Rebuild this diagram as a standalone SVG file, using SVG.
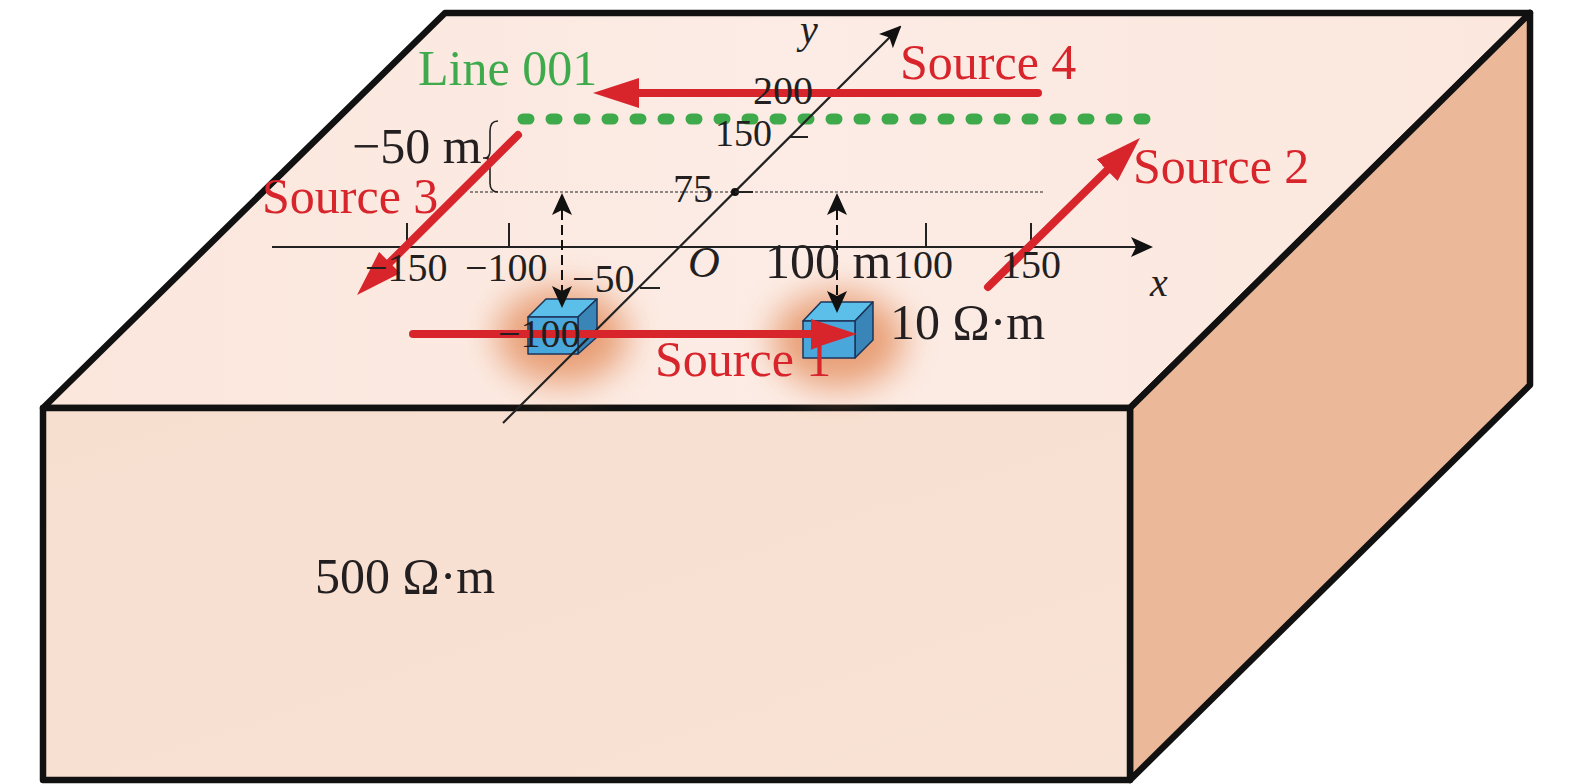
<svg xmlns="http://www.w3.org/2000/svg" width="1575" height="784" viewBox="0 0 1575 784">
<style>
text{font-family:"Liberation Serif","Times New Roman",serif;fill:#231F20}
.big{font-size:50px}
.tk{font-size:40px}
.it{font-style:italic}
.red{fill:#D8252C}
.grn{fill:#3FAA4C}
.edge{stroke:#111;stroke-width:6.5;stroke-linejoin:round}
.src{stroke:#D8252C;stroke-width:8;stroke-linecap:round;fill:none;marker-end:url(#redhead)}
.axis{stroke:#222;stroke-width:2.2;fill:none}
.tick{stroke:#222;stroke-width:2;fill:none}
.dim{stroke:#111;stroke-width:2;stroke-dasharray:10 5;fill:none;marker-start:url(#blkstart);marker-end:url(#blkhead)}
.cube{stroke:#1C3559;stroke-width:1.5;stroke-linejoin:round}
</style>
<defs>
<marker id="redhead" markerUnits="userSpaceOnUse" markerWidth="46" markerHeight="30" viewBox="0 0 46 30" refX="6" refY="15" orient="auto">
<path d="M0,0 L46,15 L0,30 z" fill="#D8252C"/>
</marker>
<marker id="blkhead" markerUnits="userSpaceOnUse" markerWidth="22" markerHeight="20" viewBox="0 0 22 20" refX="20" refY="10" orient="auto">
<path d="M0,0 L22,10 L0,20 L5,10 z" fill="#111"/>
</marker>
<marker id="blkstart" markerUnits="userSpaceOnUse" markerWidth="22" markerHeight="20" viewBox="0 0 22 20" refX="2" refY="10" orient="auto">
<path d="M22,0 L0,10 L22,20 L17,10 z" fill="#111"/>
</marker>
<linearGradient id="topg" x1="0" y1="0" x2="1" y2="0">
<stop offset="0" stop-color="#FBE6DC"/>
<stop offset="0.5" stop-color="#FCECE5"/>
<stop offset="1" stop-color="#FBE7DD"/>
</linearGradient>
<linearGradient id="frontg" x1="0" y1="0" x2="1" y2="1">
<stop offset="0" stop-color="#F7DFD0"/>
<stop offset="1" stop-color="#F8E2D4"/>
</linearGradient>
<filter id="blur" x="-1" y="-1" width="3" height="3">
<feGaussianBlur stdDeviation="17"/>
</filter>
</defs>

<g id="earth">
<polygon class="edge" fill="url(#topg)" points="43,408 445,13 1530,13 1130,408"/>
<polygon class="edge" fill="#EBB999" points="1130,408 1530,13 1530,385 1130,780"/>
<rect class="edge" fill="url(#frontg)" x="43" y="408" width="1087" height="372"/>
</g>

<g id="glows">
<ellipse cx="562" cy="336" rx="66" ry="48" fill="#E6976A" opacity="0.9" filter="url(#blur)"/>
<ellipse cx="838" cy="340" rx="66" ry="48" fill="#E6976A" opacity="0.9" filter="url(#blur)"/>
</g>

<g id="axes">
<line class="axis" x1="272" y1="247" x2="1151" y2="247" marker-end="url(#blkhead)"/>
<line class="tick" x1="407" y1="223" x2="407" y2="247"/>
<line class="tick" x1="509" y1="223" x2="509" y2="247"/>
<line class="tick" x1="926" y1="223" x2="926" y2="247"/>
<line class="tick" x1="1031" y1="223" x2="1031" y2="247"/>
<line x1="470" y1="192" x2="1043" y2="192" stroke="#222" stroke-width="1.2" stroke-dasharray="3 2"/>
<path d="M498,121 Q490,121 490,131 L490,150 Q490,158 485,158 Q490,158 490,166 L490,183 Q490,192 498,192" fill="none" stroke="#222" stroke-width="1.6"/>
<line x1="483" y1="158" x2="489" y2="158" stroke="#222" stroke-width="1.6"/>
<line x1="523" y1="119" x2="1154" y2="119" stroke="#3FAA4C" stroke-width="11" stroke-linecap="round" stroke-dasharray="6 22"/>
</g>

<g id="block1">
<polygon class="cube" fill="#5CBFE9" points="528,317 546,299 597,299 578,317"/>
<polygon class="cube" fill="#3A85B7" points="578,317 597,299 597,337 578,354"/>
<rect class="cube" fill="#4AA7DC" x="528" y="317" width="50" height="37"/>
</g>
<g id="block2">
<polygon class="cube" fill="#5CBFE9" points="803,321 821,302 873,302 855,321"/>
<polygon class="cube" fill="#3A85B7" points="855,321 873,302 873,340 855,358"/>
<rect class="cube" fill="#4AA7DC" x="803" y="321" width="52" height="37"/>
</g>

<g id="yaxis">
<line class="axis" x1="503" y1="423" x2="900" y2="27" marker-end="url(#blkhead)"/>
<circle cx="735" cy="192" r="4" fill="#111"/>
<line class="tick" x1="735" y1="192" x2="753" y2="192"/>
<line class="tick" x1="790" y1="137" x2="808" y2="137"/>
<line class="tick" x1="640" y1="288" x2="660" y2="288"/>
</g>

<g id="connectors">
<line class="dim" x1="562" y1="195" x2="562" y2="306"/>
<line class="dim" x1="837" y1="195" x2="837" y2="311"/>
<line class="src" x1="1038" y1="93" x2="633" y2="93"/>
<line class="src" x1="518" y1="135" x2="385.4" y2="266.8"/>
<line class="src" x1="988" y1="287" x2="1111.4" y2="166"/>
<line class="src" x1="413" y1="334" x2="817" y2="334"/>
</g>

<g id="labels">
<text class="big grn" x="418" y="85">Line 001</text>
<text class="big red" x="900" y="79">Source 4</text>
<text class="big red" x="1133" y="183">Source 2</text>
<text class="big red" x="262" y="213">Source 3</text>
<text class="big red" x="655" y="376">Source 1</text>
<text class="big" x="352" y="163">−50 m</text>
<text class="big" x="765" y="278">100 m</text>
<text class="big" x="890" y="339">10 Ω·m</text>
<text class="big" x="315" y="593">500 Ω·m</text>
<text class="tk" x="365" y="281">−150</text>
<text class="tk" x="465" y="281">−100</text>
<text class="tk" x="893" y="278">100</text>
<text class="tk" x="1001" y="278">150</text>
<text class="tk" x="572" y="292">−50</text>
<text class="tk" x="498" y="347">−100</text>
<text class="tk" x="673" y="202">75</text>
<text class="tk" x="715" y="146" style="font-size:38px">150</text>
<text class="tk" x="753" y="104">200</text>
<text class="tk it" x="688" y="277" style="font-size:44px">O</text>
<text class="tk it" x="800" y="43">y</text>
<text class="tk it" x="1150" y="296">x</text>
</g>
</svg>
